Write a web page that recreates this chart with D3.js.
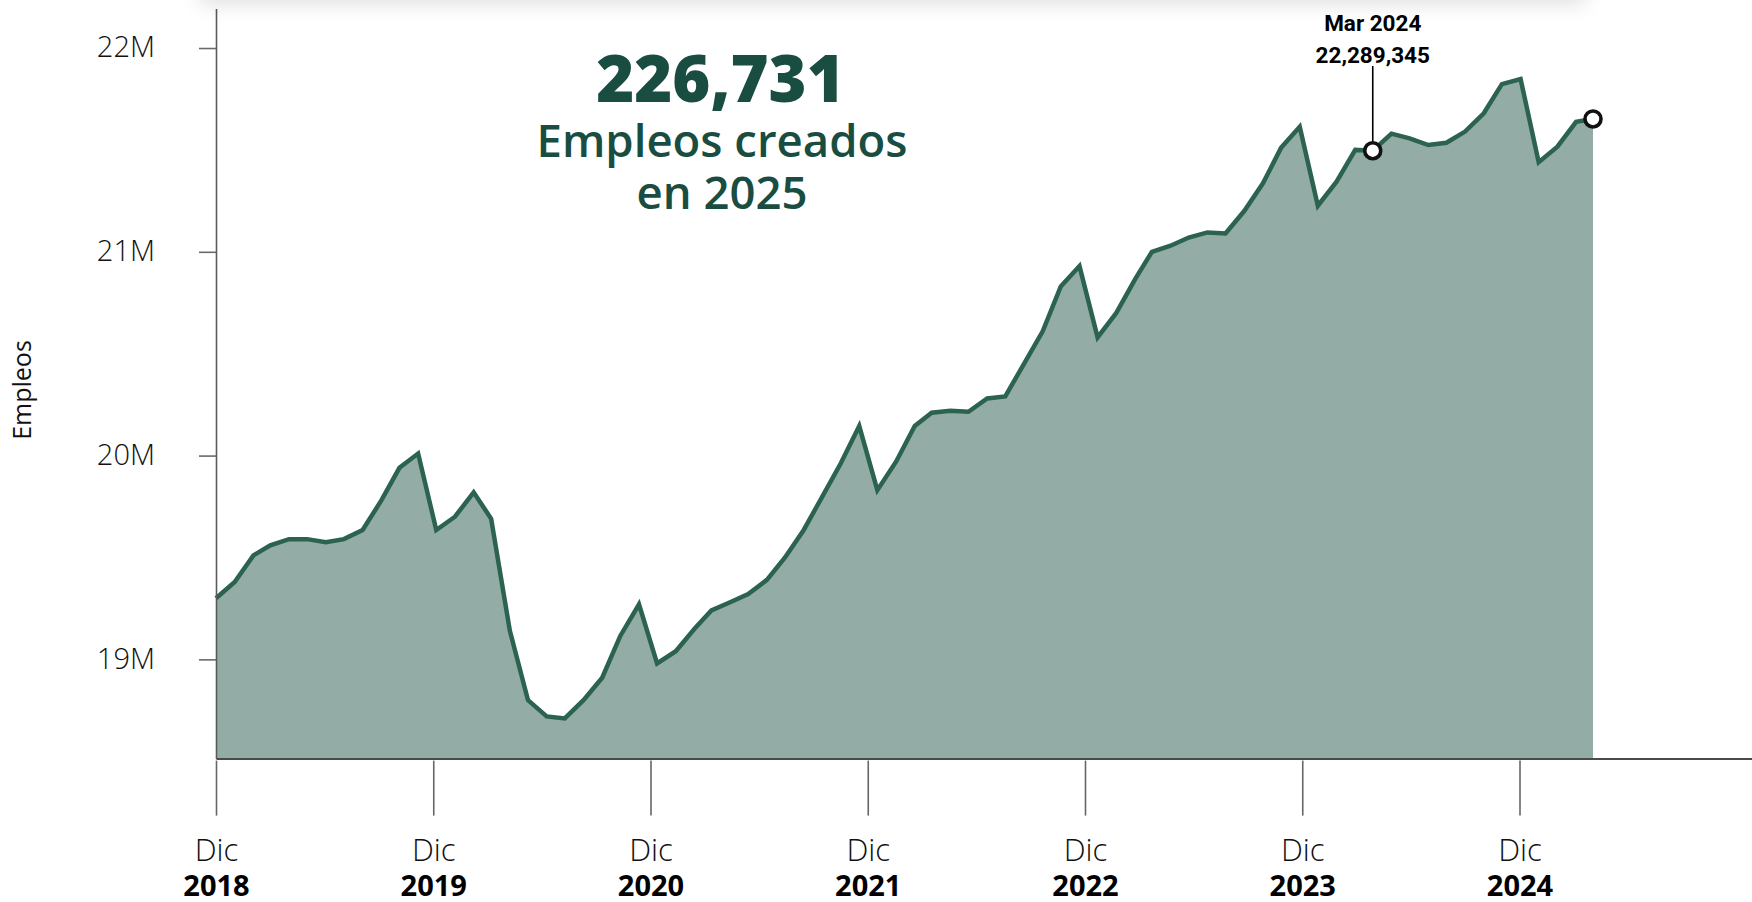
<!DOCTYPE html>
<html><head><meta charset="utf-8">
<script src="https://cdn.jsdelivr.net/npm/d3@7"></script>
<style>
html,body{margin:0;padding:0;background:#fff;overflow:hidden;}
#wrap{position:relative;width:1752px;height:902px;overflow:hidden;}
#shadow{position:absolute;top:-40px;left:200px;width:1385px;height:40px;background:#fff;box-shadow:0 4px 20px rgba(0,0,0,0.13);}
svg{position:absolute;left:0;top:0;}
</style></head>
<body><div id="wrap"><svg id="chart" width="1752" height="902"></svg><div id="shadow"></div></div>
<script>
// ---- data ----
const startMonth = new Date(2018, 11, 1);   // Dic 2018
const endMonth = new Date(2025, 2, 1);      // Mar 2025
const months = d3.timeMonth.range(startMonth, d3.timeMonth.offset(endMonth, 1));
// empleos (millions, in axis units as drawn)
const empleosM = [
  19.30, 19.38, 19.51, 19.56, 19.59, 19.59, 19.575, 19.59, 19.635, 19.78, 19.94, 20.01,
  19.635, 19.70, 19.82, 19.69, 19.14, 18.80, 18.72, 18.71, 18.80, 18.91, 19.115, 19.27,
  18.98, 19.04, 19.15, 19.24, 19.28, 19.32, 19.39, 19.50, 19.635, 19.80, 19.96, 20.145,
  19.83, 19.97, 20.145, 20.21, 20.22, 20.215, 20.28, 20.29, 20.45, 20.61, 20.83, 20.93,
  20.58, 20.70, 20.865, 21.00, 21.03, 21.07, 21.095, 21.09, 21.20, 21.336, 21.51, 21.614,
  21.226, 21.344, 21.50, 21.496, 21.58, 21.557, 21.524, 21.535, 21.59, 21.68, 21.823, 21.848,
  21.44, 21.516, 21.638, 21.652
];
const yTickValues = [19, 20, 21, 22];
const yTickLabels = ["19M", "20M", "21M", "22M"];
const xTickYears = [2018, 2019, 2020, 2021, 2022, 2023, 2024];
const xTickMonthLabel = "Dic";
const yAxisTitle = "Empleos";
const headline = "226,731";
const subLines = ["Empleos creados", "en 2025"];
const annotIndex = 63;
const annotLines = ["Mar 2024", "22,289,345"];
const markIndices = [63, 75];

// ---- styles ----
const W = 1752, H = 902;
const plotLeft = 216, plotBottom = 758.6, plotTop = 8.5, plotRight = 1752;
const FONT = "'Open Sans', 'Lato', sans-serif";
const green = "#2b6250", fillC = "#93ada6", titleC = "#194d41";

const data = months.map((d, i) => ({date: d, v: empleosM[i]}));
const svg = d3.select("#chart");

const x = d3.scaleTime().domain([startMonth, endMonth]).range([plotLeft, 1593]);
const y = d3.scaleLinear().domain([18.513, 22.194]).range([plotBottom, plotTop]);
const xt = d3.scaleLinear().domain([2018, 2018 + (plotRight - plotLeft) / 217.25]).range([plotLeft, plotRight]);

// area + line
svg.append("path").datum(data)
  .attr("fill", fillC)
  .attr("d", d3.area().x(d => x(d.date)).y0(y(y.domain()[0])).y1(d => y(d.v)));
svg.append("path").datum(data)
  .attr("fill", "none").attr("stroke", green).attr("stroke-width", 4.5)
  .attr("stroke-linejoin", "miter")
  .attr("d", d3.line().x(d => x(d.date)).y(d => y(d.v)));

// y axis
const ya = svg.append("g").attr("transform", `translate(${plotLeft},0)`)
  .call(d3.axisLeft(y).tickValues(yTickValues).tickSize(17).tickSizeOuter(0).tickPadding(44)
    .tickFormat((d, i) => yTickLabels[i]));
ya.select(".domain").attr("stroke", "#5a5a5a").attr("stroke-width", 1.6);
ya.selectAll(".tick line").attr("stroke", "#6a6a6a").attr("stroke-width", 1.6);
ya.selectAll(".tick text").attr("font-family", FONT).attr("font-weight", 300)
  .attr("font-size", 29).attr("fill", "#111").attr("dy", "0.3em");

// x baseline
const xa = svg.append("g").attr("transform", `translate(0,${plotBottom})`)
  .call(d3.axisBottom(xt).tickValues([]).tickSizeOuter(0));
xa.select(".domain").attr("stroke", "#4a4a4a").attr("stroke-width", 2);

// x ticks with labels
const xb = svg.append("g").attr("transform", `translate(0,${plotBottom + 2})`)
  .call(d3.axisBottom(xt).tickValues(xTickYears).tickSize(55).tickFormat(""));
xb.select(".domain").remove();
xb.selectAll(".tick line").attr("stroke", "#666").attr("stroke-width", 1.6);
xb.selectAll(".tick").each(function(d) {
  const g = d3.select(this);
  g.append("text").attr("y", 100).attr("text-anchor", "middle")
    .attr("font-family", FONT).attr("font-weight", 300).attr("font-size", 31).attr("fill", "#111")
    .text(xTickMonthLabel);
  g.append("text").attr("y", 135).attr("text-anchor", "middle")
    .attr("font-family", FONT).attr("font-weight", 700).attr("font-size", 29).attr("fill", "#000")
    .text(String(d));
});

// y axis title
svg.append("text").attr("transform", "translate(31,390) rotate(-90)")
  .attr("text-anchor", "middle").attr("font-family", FONT).attr("font-size", 25)
  .attr("fill", "#111").text(yAxisTitle);

// headline
svg.append("text").attr("x", 720.5).attr("y", 102).attr("text-anchor", "middle")
  .attr("font-family", FONT).attr("font-weight", 800).attr("font-size", 65)
  .attr("fill", titleC).text(headline);
subLines.forEach((t, i) => {
  svg.append("text").attr("x", 722).attr("y", 157 + i * 52).attr("text-anchor", "middle")
    .attr("font-family", FONT).attr("font-weight", 600).attr("font-size", 45.5)
    .attr("fill", titleC).text(t);
});

// annotation
const ad = data[annotIndex];
svg.append("line").attr("x1", x(ad.date)).attr("x2", x(ad.date))
  .attr("y1", 66).attr("y2", y(ad.v)).attr("stroke", "#000").attr("stroke-width", 1.6);
annotLines.forEach((t, i) => {
  svg.append("text").attr("x", x(ad.date)).attr("y", 30.7 + i * 32).attr("text-anchor", "middle")
    .attr("font-family", "Roboto, 'Liberation Sans', sans-serif").attr("font-weight", 700)
    .attr("font-size", 22.5).attr("fill", "#000").text(t);
});

// marker circles
svg.selectAll("circle.mk").data(markIndices.map(i => data[i])).join("circle")
  .attr("class", "mk").attr("cx", d => x(d.date)).attr("cy", d => y(d.v))
  .attr("r", 8).attr("fill", "#fff").attr("stroke", "#111").attr("stroke-width", 3.6);
</script></body></html>
